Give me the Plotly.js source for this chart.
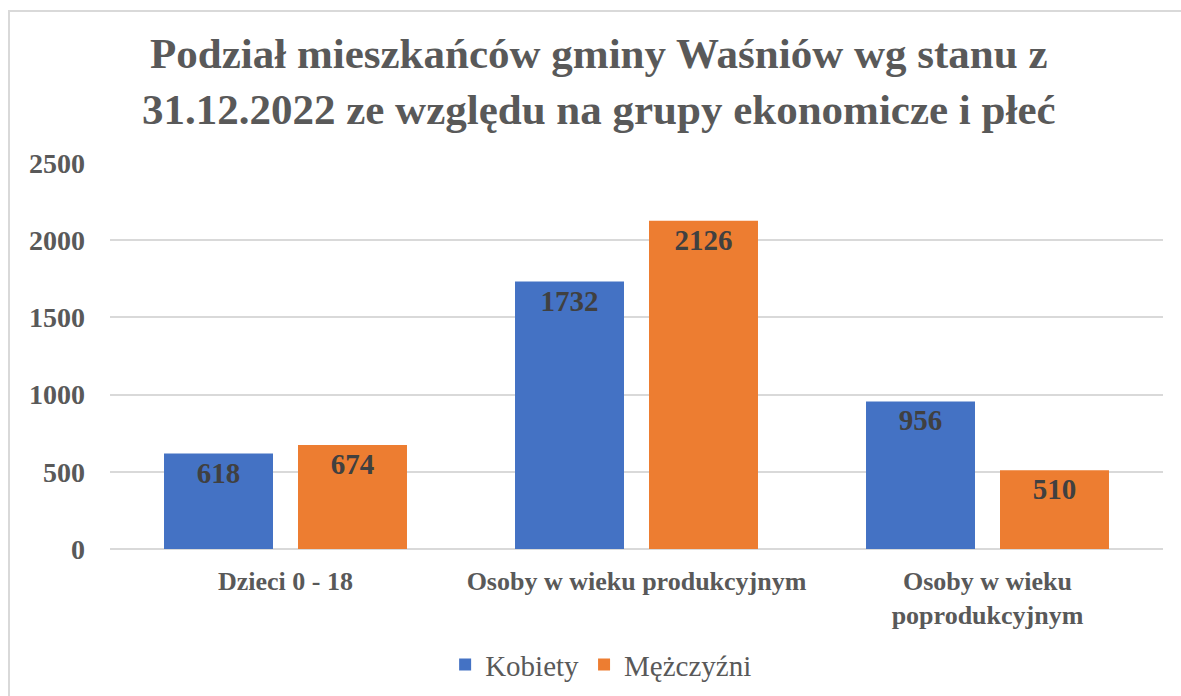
<!DOCTYPE html>
<html>
<head>
<meta charset="utf-8">
<script src="https://cdn.plot.ly/plotly-3.0.1.min.js"></script>
<style>
  body { margin: 0; background: #ffffff; }
  #frame { position: absolute; left: 8px; top: 10px; width: 1200px; height: 720px; border-left: 2px solid #d9d9d9; border-top: 2px solid #d9d9d9; box-sizing: border-box; }
  #chart { position: absolute; left: 0; top: 0; width: 1181px; height: 696px; }
</style>
</head>
<body>
<div id="frame"></div>
<div id="chart"></div>
<script>
const categories = ["Dzieci 0 - 18", "Osoby w wieku produkcyjnym", "Osoby w wieku<br>poprodukcyjnym"];
const kobiety = [618, 1732, 956];
const mezczyzni = [674, 2126, 510];
const seriesNames = ["Kobiety", "Mężczyźni"];
const yTicks = [0, 500, 1000, 1500, 2000, 2500];

const serif = "Liberation Serif";

const traces = [
  {
    type: "bar", name: seriesNames[0], x: categories, y: kobiety,
    text: kobiety.map(String), textposition: "inside", insidetextanchor: "end",
    textfont: { family: serif, size: 29, color: "#404040", weight: "bold" },
    marker: { color: "#4472C4" }
  },
  {
    type: "bar", name: seriesNames[1], x: categories, y: mezczyzni,
    text: mezczyzni.map(String), textposition: "inside", insidetextanchor: "end",
    textfont: { family: serif, size: 29, color: "#404040", weight: "bold" },
    marker: { color: "#ED7D31" }
  }
];

const layout = {
  width: 1181, height: 696,
  paper_bgcolor: "rgba(0,0,0,0)", plot_bgcolor: "rgba(0,0,0,0)",
  margin: { l: 110, r: 18, t: 163, b: 147 },
  title: {
    text: "Podział mieszkańców gminy Waśniów wg stanu z<br>31.12.2022 ze względu na grupy ekonomicze i płeć",
    font: { family: serif, size: 43, color: "#595959", weight: "bold" },
    x: 0.507, xanchor: "center", y: 0.902, yanchor: "middle"
  },
  barmode: "group", bargap: 0.2365, bargroupgap: 0.1866,
  xaxis: {
    type: "category", showgrid: false, zeroline: false, showline: false, ticks: "",
    tickfont: { family: serif, size: 26, color: "#595959", weight: "bold" },
    ticklabelstandoff: 14
  },
  yaxis: {
    range: [0, 2500], tickvals: yTicks, ticktext: yTicks.map(String),
    showgrid: true, gridcolor: "#d9d9d9", gridwidth: 1.5, zeroline: true, zerolinecolor: "#d9d9d9", zerolinewidth: 1.5,
    showline: false, ticks: "",
    tickfont: { family: serif, size: 28, color: "#595959", weight: "bold" },
    ticklabelstandoff: 24
  },
  showlegend: true,
  legend: {
    orientation: "h", x: 0.509, xref: "container", xanchor: "center",
    y: 0.045, yref: "container", yanchor: "middle",
    font: { family: serif, size: 29, color: "#595959" },
    itemwidth: 30, traceorder: "normal"
  }
};

Plotly.newPlot("chart", traces, layout, { displayModeBar: false });
</script>
</body>
</html>
